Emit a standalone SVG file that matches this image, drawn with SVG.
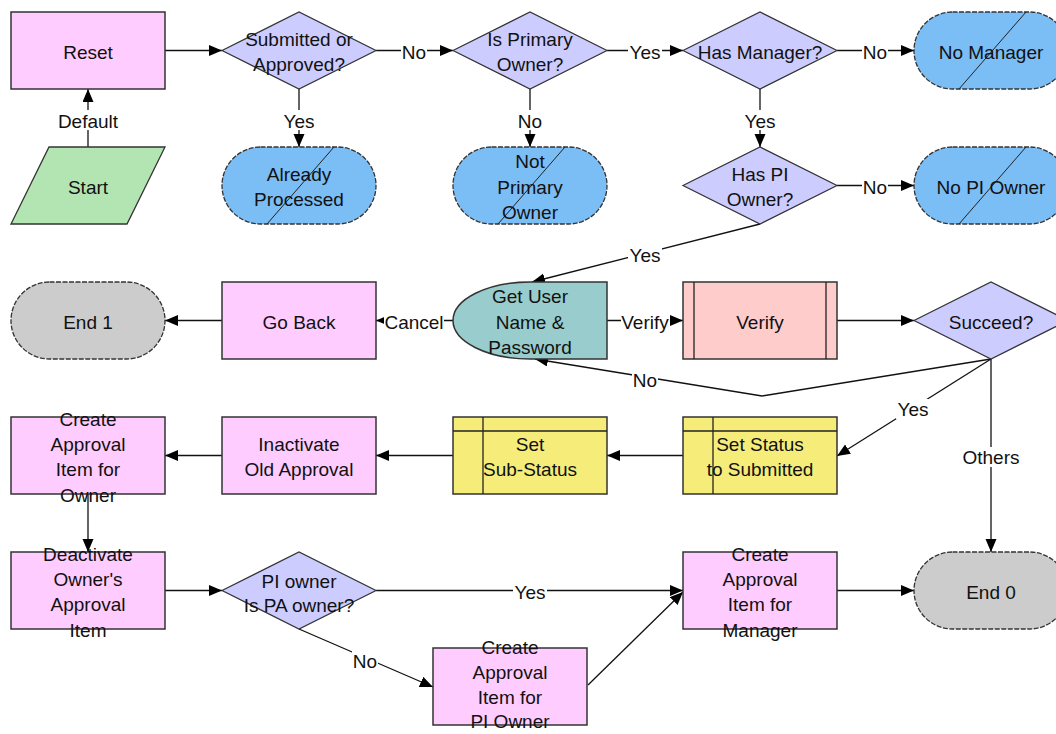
<svg xmlns="http://www.w3.org/2000/svg" width="1056" height="734" viewBox="0 0 1056 734">
<defs>
<marker id="arr" markerUnits="userSpaceOnUse" markerWidth="14" markerHeight="12" refX="13" refY="5.5" orient="auto">
<path d="M0,0 L13,5.5 L0,11 Z" fill="#000"/>
</marker>
<style>
.t{font-family:"Liberation Sans",Arial,sans-serif;font-size:19px;fill:#111;text-anchor:middle;transform:translateY(1.8px)}
.proc{fill:#FFCCFF;stroke:#333;stroke-width:1.5}
.dec{fill:#CCCCFF;stroke:#333;stroke-width:1.2}
.term{fill:#7BBDF5;stroke:#333;stroke-width:1.3;stroke-dasharray:5 1.5}
.end{fill:#CCCCCC;stroke:#333;stroke-width:1.3;stroke-dasharray:5 1.5}
.slash{stroke:#222;stroke-width:1;fill:none}
.sub{fill:#F5EC7A;stroke:#333;stroke-width:1.5}
.ln{stroke:#222;stroke-width:1.3;fill:none}
.c{stroke:#111;stroke-width:1.3;fill:none;marker-end:url(#arr)}
.lb{fill:#fff}
</style>
</defs>
<rect width="1056" height="734" fill="#fff"/>

<g id="connectors">
<path class="c" d="M88,147 V89"/>
<path class="c" d="M165,50.5 H222"/>
<path class="c" d="M376,50.5 H453"/>
<path class="c" d="M299,89 V147"/>
<path class="c" d="M530,89 V147"/>
<path class="c" d="M607,50.5 H683"/>
<path class="c" d="M837,50.5 H914"/>
<path class="c" d="M760,89 V147"/>
<path class="c" d="M837,185.5 H914"/>
<path class="c" d="M760,224 L532,282"/>
<path class="c" d="M453,320.5 H376"/>
<path class="c" d="M222,320.5 H165"/>
<path class="c" d="M607,320.5 H683"/>
<path class="c" d="M837,320.5 H914"/>
<path class="c" d="M991,359 L762,396 L535,359"/>
<path class="c" d="M991,359 L837,456"/>
<path class="c" d="M991,359 V552"/>
<path class="c" d="M683,455.5 H607"/>
<path class="c" d="M453,455.5 H376"/>
<path class="c" d="M222,455.5 H165"/>
<path class="c" d="M88,494 V552"/>
<path class="c" d="M165,590.5 H222"/>
<path class="c" d="M376,590.5 H683"/>
<path class="c" d="M299,629 L433,687"/>
<path class="c" d="M588,685 L683,592"/>
<path class="c" d="M837,590.5 H914"/>
<g id="edge-labels">
<rect class="lb" x="57" y="110" width="62" height="20"/><text class="t" x="88" y="126">Default</text>
<rect class="lb" x="282" y="110" width="34" height="20"/><text class="t" x="299" y="126">Yes</text>
<rect class="lb" x="517" y="110" width="26" height="20"/><text class="t" x="530" y="126">No</text>
<rect class="lb" x="743" y="110" width="34" height="20"/><text class="t" x="760" y="126">Yes</text>
<rect class="lb" x="401" y="42" width="26" height="20"/><text class="t" x="414" y="57.5">No</text>
<rect class="lb" x="628" y="42" width="34" height="20"/><text class="t" x="645" y="57.5">Yes</text>
<rect class="lb" x="862" y="42" width="26" height="20"/><text class="t" x="875" y="57.5">No</text>
<rect class="lb" x="862" y="177" width="26" height="20"/><text class="t" x="875" y="192.5">No</text>
<rect class="lb" x="628" y="245" width="34" height="20"/><text class="t" x="645" y="260.5">Yes</text>
<rect class="lb" x="384" y="312" width="60" height="20"/><text class="t" x="414" y="327.5">Cancel</text>
<rect class="lb" x="621" y="312" width="49" height="20"/><text class="t" x="645" y="327.5">Verify</text>
<rect class="lb" x="632" y="370" width="26" height="20"/><text class="t" x="645" y="385.5">No</text>
<rect class="lb" x="896" y="399" width="34" height="20"/><text class="t" x="913" y="414.5">Yes</text>
<rect class="lb" x="962" y="447" width="58" height="20"/><text class="t" x="991" y="462.5">Others</text>
<rect class="lb" x="513" y="582" width="34" height="20"/><text class="t" x="530" y="597.5">Yes</text>
<rect class="lb" x="352" y="651" width="26" height="20"/><text class="t" x="365" y="666.5">No</text>
</g>
</g>

<g id="reset"><rect class="proc" x="11" y="12" width="154" height="77"/><text class="t" x="88" y="57">Reset</text></g>
<g id="start"><polygon points="49,147 165,147 127,224 11,224" fill="#B3E5B3" stroke="#333" stroke-width="1.3"/><text class="t" x="88" y="192">Start</text></g>
<g id="submitted"><polygon class="dec" points="222,50.5 299,12 376,50.5 299,89"/><text class="t" x="299" y="44.4">Submitted or</text><text class="t" x="299" y="69.7">Approved?</text></g>
<g id="already-processed"><rect class="term" x="222" y="147" width="154" height="77" rx="38.5" ry="38.5"/><line class="slash" x1="267" y1="224" x2="334" y2="147"/><text class="t" x="299" y="178.9">Already</text><text class="t" x="299" y="204.2">Processed</text></g>
<g id="is-primary-owner"><polygon class="dec" points="453,50.5 530,12 607,50.5 530,89"/><text class="t" x="530" y="44.4">Is Primary</text><text class="t" x="530" y="69.7">Owner?</text></g>
<g id="not-primary-owner"><rect class="term" x="453" y="147" width="154" height="77" rx="38.5" ry="38.5"/><line class="slash" x1="498" y1="224" x2="565" y2="147"/><text class="t" x="530" y="166.7">Not</text><text class="t" x="530" y="192">Primary</text><text class="t" x="530" y="217.3">Owner</text></g>
<g id="has-manager"><polygon class="dec" points="683,50.5 760,12 837,50.5 760,89"/><text class="t" x="760" y="57">Has Manager?</text></g>
<g id="no-manager"><rect class="term" x="914" y="12" width="154" height="77" rx="38.5" ry="38.5"/><line class="slash" x1="959" y1="89" x2="1026" y2="12"/><text class="t" x="991" y="57">No Manager</text></g>
<g id="has-pi-owner"><polygon class="dec" points="683,185.5 760,147 837,185.5 760,224"/><text class="t" x="760" y="178.9">Has PI</text><text class="t" x="760" y="204.2">Owner?</text></g>
<g id="no-pi-owner"><rect class="term" x="914" y="147" width="154" height="77" rx="38.5" ry="38.5"/><line class="slash" x1="959" y1="224" x2="1026" y2="147"/><text class="t" x="991" y="192">No PI Owner</text></g>

<g id="end1"><rect class="end" x="11" y="282" width="154" height="77" rx="38.5" ry="38.5"/><text class="t" x="88" y="327">End 1</text></g>
<g id="go-back"><rect class="proc" x="222" y="282" width="154" height="77"/><text class="t" x="299" y="327">Go Back</text></g>
<g id="get-user"><path d="M607,282 H530 A77,38.5 0 0 0 530,359 H607 Z" fill="#99CCCC" stroke="#333" stroke-width="1.5"/><text class="t" x="530" y="301.7">Get User</text><text class="t" x="530" y="327">Name &amp;</text><text class="t" x="530" y="352.3">Password</text></g>
<g id="verify"><rect x="683" y="282" width="154" height="77" fill="#FFCCCC" stroke="#333" stroke-width="1.5"/><line class="ln" x1="694" y1="282" x2="694" y2="359"/><line class="ln" x1="826" y1="282" x2="826" y2="359"/><text class="t" x="760" y="327">Verify</text></g>
<g id="succeed"><polygon class="dec" points="914,320.5 991,282 1068,320.5 991,359"/><text class="t" x="991" y="327">Succeed?</text></g>

<g id="create-owner"><rect class="proc" x="11" y="417" width="154" height="77"/><text class="t" x="88" y="424">Create</text><text class="t" x="88" y="449.3">Approval</text><text class="t" x="88" y="474.6">Item for</text><text class="t" x="88" y="500">Owner</text></g>
<g id="inactivate"><rect class="proc" x="222" y="417" width="154" height="77"/><text class="t" x="299" y="448.9">Inactivate</text><text class="t" x="299" y="474.2">Old Approval</text></g>
<g id="set-sub-status"><rect class="sub" x="453" y="417" width="154" height="77"/><line class="ln" x1="453" y1="431" x2="607" y2="431"/><line class="ln" x1="483" y1="417" x2="483" y2="494"/><text class="t" x="530" y="448.9">Set</text><text class="t" x="530" y="474.2">Sub-Status</text></g>
<g id="set-status"><rect class="sub" x="683" y="417" width="154" height="77"/><line class="ln" x1="683" y1="431" x2="837" y2="431"/><line class="ln" x1="713" y1="417" x2="713" y2="494"/><text class="t" x="760" y="448.9">Set Status</text><text class="t" x="760" y="474.2">to Submitted</text></g>

<g id="deactivate"><rect class="proc" x="11" y="552" width="154" height="77"/><text class="t" x="88" y="559">Deactivate</text><text class="t" x="88" y="584.3">Owner's</text><text class="t" x="88" y="609.6">Approval</text><text class="t" x="88" y="635">Item</text></g>
<g id="pi-is-pa"><polygon class="dec" points="222,590.5 299,552 376,590.5 299,629"/><text class="t" x="299" y="585.9">PI owner</text><text class="t" x="299" y="610.2">Is PA owner?</text></g>
<g id="create-manager"><rect class="proc" x="683" y="552" width="154" height="77"/><text class="t" x="760" y="559">Create</text><text class="t" x="760" y="584.3">Approval</text><text class="t" x="760" y="609.6">Item for</text><text class="t" x="760" y="635">Manager</text></g>
<g id="end0"><rect class="end" x="914" y="552" width="154" height="77" rx="38.5" ry="38.5"/><text class="t" x="991" y="597">End 0</text></g>
<g id="create-pi-owner"><rect class="proc" x="433" y="648" width="154" height="77"/><text class="t" x="510" y="652">Create</text><text class="t" x="510" y="677">Approval</text><text class="t" x="510" y="702">Item for</text><text class="t" x="510" y="726.5">PI Owner</text></g>
</svg>
